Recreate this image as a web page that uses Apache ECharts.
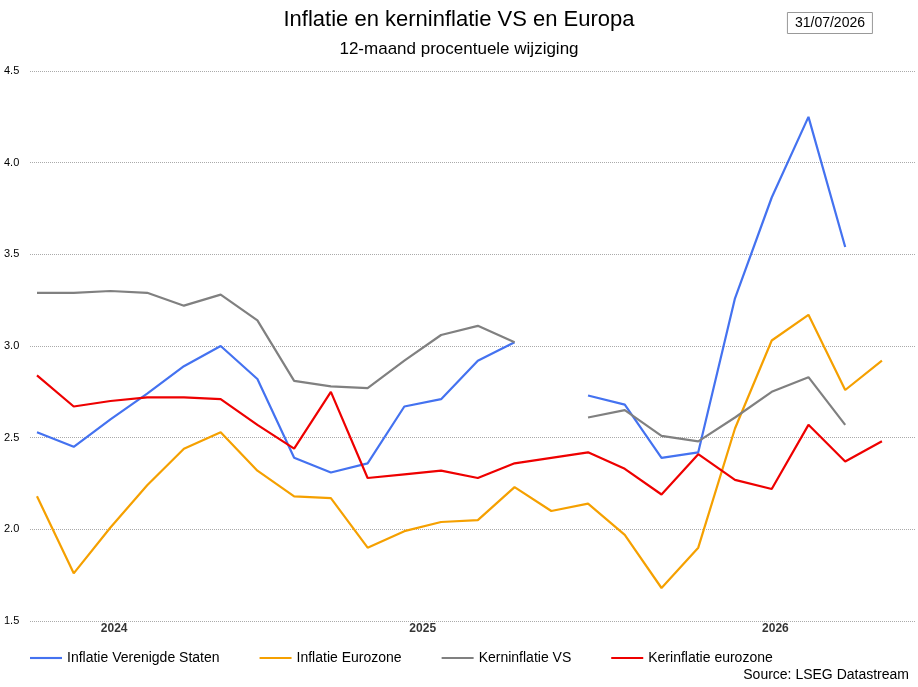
<!DOCTYPE html>
<html><head><meta charset="utf-8">
<script src="https://cdn.jsdelivr.net/npm/echarts@6/dist/echarts.min.js"></script>
<style>body{margin:0}#c{width:918px;height:687px}</style></head>
<body><div id="c"></div>
<script>
const months = Array.from({length:24},(_,i)=>i);
const usInfl = [2.53,2.45,2.60,2.74,2.89,3.00,2.82,2.39,2.31,2.36,2.67,2.71,2.92,3.02,null,2.73,2.68,2.39,2.42,3.26,3.81,4.25,3.54,null];
const ezInfl = [2.18,1.76,2.01,2.24,2.44,2.53,2.32,2.18,2.17,1.90,1.99,2.04,2.05,2.23,2.10,2.14,1.97,1.68,1.90,2.55,3.03,3.17,2.76,2.92];
const usCore = [3.29,3.29,3.30,3.29,3.22,3.28,3.14,2.81,2.78,2.77,2.92,3.06,3.11,3.02,null,2.61,2.65,2.51,2.48,2.61,2.75,2.83,2.57,null];
const ezCore = [2.84,2.67,2.70,2.72,2.72,2.71,2.57,2.44,2.75,2.28,2.30,2.32,2.28,2.36,2.39,2.42,2.33,2.19,2.41,2.27,2.22,2.57,2.37,2.48];
const yearLabels = [[2.1,'2024'],[10.5,'2025'],[20.1,'2026']];
const pair = a => a.map((v,i)=>[months[i],v]);
const mk = (name,data,color)=>({name,type:'line',data:pair(data),showSymbol:false,connectNulls:false,lineStyle:{width:2.2,color},itemStyle:{color}});
const chart = echarts.init(document.getElementById('c'));
chart.setOption({
  animation:false,
  title:[{text:'Inflatie en kerninflatie VS en Europa',left:'center',top:4,textStyle:{fontFamily:'Arial, Liberation Sans',fontSize:22,fontWeight:'normal',color:'#000'}},
         {text:'12-maand procentuele wijziging',left:'center',top:36,textStyle:{fontFamily:'Arial, Liberation Sans',fontSize:17,fontWeight:'normal',color:'#000'}},
         {text:'31/07/2026',right:45,top:12,padding:[4,8],borderColor:'#999',borderWidth:1,textStyle:{fontFamily:'Arial, Liberation Sans',fontSize:14,fontWeight:'normal',color:'#000'}},
         {text:'Source: LSEG Datastream',right:4,bottom:0,textStyle:{fontFamily:'Arial, Liberation Sans',fontSize:14,fontWeight:'normal',color:'#000'}}],
  legend:{bottom:17,left:25,itemGap:40,icon:'path://M0,0H30V2H0Z',itemWidth:32,itemHeight:3,textStyle:{fontFamily:'Arial, Liberation Sans',fontSize:14,color:'#000'},data:['Inflatie Verenigde Staten','Inflatie Eurozone','Kerninflatie VS','Kerinflatie eurozone']},
  grid:{left:30,right:3,top:71,bottom:66,outerBoundsMode:'none',containLabel:false},
  xAxis:{type:'value',min:-0.19,max:23.9,axisLabel:{show:false},axisTick:{show:false},splitLine:{show:false},axisLine:{show:false}},
  yAxis:{type:'value',min:1.5,max:4.5,interval:0.5,axisLabel:{formatter:v=>v.toFixed(1),fontSize:11,color:'#000',margin:26,align:'left'},splitLine:{lineStyle:{type:'dotted',color:'#aaa'}},axisLine:{show:false},axisTick:{show:false}},
  series:[
    mk('Inflatie Verenigde Staten',usInfl,'#4472f0'),
    mk('Inflatie Eurozone',ezInfl,'#f5a000'),
    mk('Kerninflatie VS',usCore,'#808080'),
    mk('Kerinflatie eurozone',ezCore,'#ee0000'),
    {type:'scatter',data:yearLabels.map(d=>[d[0],1.5,d[1]]),symbolSize:0,silent:true,label:{show:true,position:'bottom',distance:2,formatter:p=>p.data[2],fontSize:12,fontWeight:'bold',color:'#000'}}
  ]
});
</script></body></html>
